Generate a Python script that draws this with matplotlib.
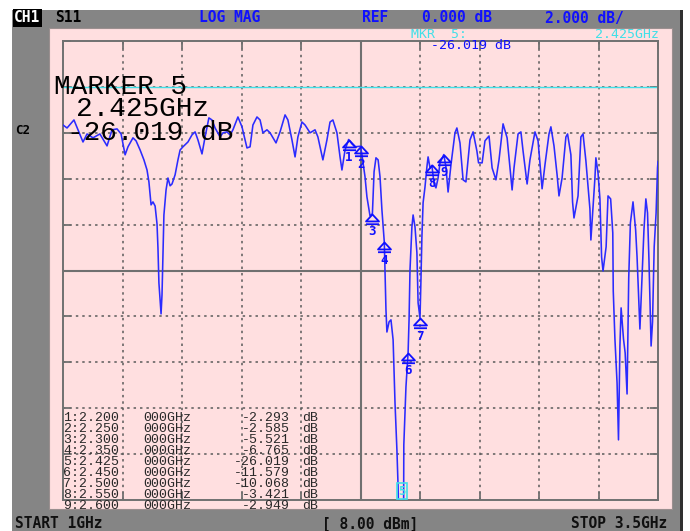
import matplotlib
matplotlib.use("Agg")
import matplotlib.pyplot as plt
from matplotlib.patches import Rectangle
from matplotlib.path import Path
import numpy as np

# ---------------- data ----------------
freq_ghz = [
    1.000, 1.017, 1.046, 1.063, 1.084, 1.101, 1.126, 1.155, 1.185, 1.206,
    1.227, 1.244, 1.261, 1.273, 1.294, 1.307, 1.324, 1.340, 1.353, 1.361,
    1.370, 1.378, 1.387, 1.395, 1.399, 1.403, 1.408, 1.412, 1.416, 1.420,
    1.424, 1.433, 1.441, 1.450, 1.458, 1.471, 1.483, 1.492, 1.504, 1.525,
    1.542, 1.555, 1.567, 1.584, 1.597, 1.613, 1.626, 1.639, 1.660, 1.672,
    1.689, 1.702, 1.714, 1.735, 1.752, 1.773, 1.786, 1.798, 1.815, 1.828,
    1.840, 1.857, 1.870, 1.895, 1.912, 1.933, 1.945, 1.962, 1.975, 1.987,
    2.004, 2.017, 2.038, 2.059, 2.071, 2.092, 2.109, 2.122, 2.134, 2.151,
    2.164, 2.172, 2.185, 2.200, 2.214, 2.227, 2.250, 2.256, 2.269, 2.277,
    2.290, 2.300, 2.307, 2.315, 2.324, 2.332, 2.340, 2.350, 2.353, 2.357,
    2.361, 2.370, 2.378, 2.387, 2.395, 2.403, 2.408, 2.416, 2.425, 2.430,
    2.432, 2.441, 2.450, 2.454, 2.458, 2.466, 2.471, 2.479, 2.487, 2.492,
    2.500, 2.504, 2.508, 2.513, 2.521, 2.529, 2.534, 2.542, 2.550, 2.559,
    2.567, 2.576, 2.584, 2.600, 2.609, 2.618, 2.630, 2.647, 2.655, 2.668,
    2.681, 2.693, 2.710, 2.723, 2.739, 2.746, 2.761, 2.773, 2.790, 2.803,
    2.819, 2.832, 2.849, 2.866, 2.882, 2.887, 2.895, 2.912, 2.924, 2.933,
    2.950, 2.962, 2.983, 2.996, 3.013, 3.025, 3.042, 3.050, 3.063, 3.076,
    3.084, 3.097, 3.113, 3.120, 3.134, 3.141, 3.147, 3.164, 3.176, 3.185,
    3.197, 3.214, 3.218, 3.235, 3.239, 3.248, 3.256, 3.263, 3.269, 3.282,
    3.290, 3.301, 3.310, 3.312, 3.319, 3.328, 3.334, 3.340, 3.345, 3.355,
    3.362, 3.370, 3.377, 3.384, 3.395, 3.406, 3.412, 3.420, 3.424, 3.434,
    3.441, 3.449, 3.456, 3.462, 3.471, 3.477, 3.484, 3.492, 3.498, 3.500,
]
s11_db = [
    -1.66, -1.79, -1.44, -1.87, -2.40, -2.05, -2.22, -2.05, -2.57, -1.87,
    -1.83, -2.05, -2.96, -2.61, -2.22, -2.35, -2.75, -3.18, -3.62, -4.14,
    -5.14, -5.01, -5.19, -5.97, -7.02, -8.54, -9.28, -9.89, -9.06, -7.41,
    -5.58, -4.49, -3.97, -4.31, -4.23, -3.83, -3.18, -2.75, -2.61, -2.40,
    -2.09, -1.96, -2.31, -2.92, -2.18, -1.35, -1.44, -1.79, -2.18, -2.00,
    -1.96, -2.09, -1.87, -1.31, -1.74, -2.66, -2.61, -1.66, -1.31, -1.44,
    -2.00, -1.87, -2.00, -2.44, -1.96, -1.22, -1.44, -2.31, -3.05, -2.18,
    -1.53, -1.66, -2.00, -1.87, -2.18, -3.18, -2.31, -1.53, -1.44, -2.00,
    -3.05, -3.62, -2.75, -2.293, -2.48, -2.61, -2.585, -2.96, -3.92, -4.79,
    -5.62, -5.521, -3.70, -3.09, -3.18, -3.92, -5.36, -6.765, -7.97, -9.72,
    -10.68, -10.24, -10.15, -11.02, -13.77, -15.82, -17.43, -22.0, -26.019, -22.0,
    -15.6, -13.07, -11.579, -10.15, -7.97, -6.10, -5.58, -6.10, -7.23, -9.41,
    -10.068, -8.41, -6.54, -5.05, -4.36, -3.49, -3.05, -3.53, -3.421, -4.23,
    -4.40, -3.97, -3.31, -2.949, -3.49, -4.58, -3.40, -2.00, -1.79, -2.44,
    -4.05, -4.14, -2.31, -1.96, -2.79, -3.31, -3.31, -2.35, -2.14, -3.53,
    -4.05, -3.18, -1.61, -2.22, -3.97, -4.49, -3.53, -2.05, -1.96, -2.79,
    -4.23, -3.18, -1.96, -2.35, -4.44, -3.40, -2.05, -1.74, -2.57, -3.83,
    -4.75, -3.97, -2.18, -2.05, -2.96, -5.01, -5.71, -4.75, -2.18, -2.05,
    -3.22, -5.32, -6.67, -3.97, -3.09, -3.75, -4.88, -7.41, -8.02, -6.97,
    -4.75, -4.88, -6.36, -8.89, -10.98, -12.90, -15.38, -11.29, -9.63, -10.98,
    -11.59, -13.38, -8.32, -5.93, -5.01, -6.23, -7.41, -9.50, -10.55, -8.02,
    -6.23, -4.88, -5.49, -7.54, -11.29, -10.24, -6.97, -5.49, -3.53, -3.25,
]

marker_ids = [1, 2, 3, 4, 5, 6, 7, 8, 9]
marker_ghz = [2.200, 2.250, 2.300, 2.350, 2.425, 2.450, 2.500, 2.550, 2.600]
marker_db = [-2.293, -2.585, -5.521, -6.765, -26.019, -11.579, -10.068, -3.421, -2.949]
active_marker = 5

start_ghz, stop_ghz = 1.0, 3.5
ref_db = 0.0
scale_db = 2.0
ref_div_from_top = 1
n_div = 10
power_dbm = 8.00

# ---------------- layout helpers ----------------
W, H = 690, 531
fig = plt.figure(figsize=(W / 100, H / 100), dpi=100)
fig.patch.set_facecolor('white')

def fx(x):
    return x / W

def fy(y):
    return 1 - y / H

def rect(x0, y0, x1, y1, **kw):
    fig.add_artist(Rectangle((fx(x0), fy(y1)), (x1 - x0) / W, (y1 - y0) / H,
                             transform=fig.transFigure, **kw))

GRAY = '#858585'
PINK = '#ffdfe0'
BLUE = '#1010ff'
CYAN = '#40e0e8'
GRID = '#707070'

rect(12, 10, 680, 531, facecolor=GRAY, edgecolor='none', zorder=0)
rect(680, 10, 683, 531, facecolor='#303030', edgecolor='none', zorder=0)
rect(49, 28, 672, 509, facecolor=PINK, edgecolor='#9a8f8f', lw=0.8, zorder=0)

# ---------------- axes ----------------
ax = fig.add_axes([fx(63), fy(500), 595 / W, 459 / H])
ax.set_facecolor(PINK)
top_db = ref_db + ref_div_from_top * scale_db
bot_db = top_db - n_div * scale_db
ax.set_xlim(start_ghz, stop_ghz)
ax.set_ylim(bot_db, top_db)
xt = np.linspace(start_ghz, stop_ghz, n_div + 1)
yt = np.linspace(bot_db, top_db, n_div + 1)
ax.set_xticks(xt)
ax.set_yticks(yt)
ax.tick_params(direction='in', length=6, width=1.3, color=GRID,
               top=True, right=True, labelbottom=False, labelleft=False)
for s in ax.spines.values():
    s.set_color(GRID)
    s.set_linewidth(1.4)
for x in xt[1:-1]:
    ax.axvline(x, color='#5a5a5a', lw=1.1, dashes=(1.6, 2.6), zorder=1)
for y in yt[1:-1]:
    ax.axhline(y, color='#5a5a5a', lw=1.1, dashes=(1.6, 2.6), zorder=1)
ax.axvline((start_ghz + stop_ghz) / 2, color=GRID, lw=1.5, zorder=1.5)
ax.axhline((top_db + bot_db) / 2, color=GRID, lw=1.5, zorder=1.5)
ax.axhline(ref_db, color=CYAN, lw=1.0, zorder=1.6)

ax.plot(freq_ghz, s11_db, color='#2b2bff', lw=1.15, zorder=3)

# marker symbol: hollow up-arrow (tip at the data point) with a base bar
arrow_path = Path(
    [(0, 0), (-0.7, -0.75), (0.7, -0.75), (0, 0),
     (-0.7, -1.05), (0.7, -1.05)],
    [Path.MOVETO, Path.LINETO, Path.LINETO, Path.CLOSEPOLY,
     Path.MOVETO, Path.LINETO])

for mid, mf, md in zip(marker_ids, marker_ghz, marker_db):
    if mid == active_marker:
        ax.annotate(str(mid), xy=(mf, max(md, bot_db)), xytext=(0, 1.5),
                    textcoords='offset points', ha='center', va='bottom',
                    color=CYAN, fontsize=9, family='DejaVu Sans Mono',
                    fontweight='bold', annotation_clip=False, zorder=5,
                    bbox=dict(boxstyle='square,pad=0.12', fc='none', ec=CYAN, lw=1.2))
    else:
        ax.plot([mf], [md], ls='none', marker=arrow_path, ms=14,
                mfc='none', mec=BLUE, mew=1.3, zorder=5, clip_on=False)
        ax.annotate(str(mid), xy=(mf, md), xytext=(0, -8.5),
                    textcoords='offset points', ha='center', va='top',
                    color=BLUE, fontsize=9, family='DejaVu Sans Mono',
                    fontweight='bold', annotation_clip=False, zorder=5)

# ---------------- header / footer texts ----------------
HB = dict(family='DejaVu Sans Mono', fontweight='bold', fontsize=10.5, va='center')
fig.text(fx(14), fy(18), 'CH1', color='white', ha='left',
         bbox=dict(boxstyle='square,pad=0.1', fc='black', ec='none'), **HB)
fig.text(fx(55), fy(18), 'S11', color='black', ha='left', **HB)
fig.text(fx(199), fy(18), 'LOG MAG', color=BLUE, ha='left', **HB)
fig.text(fx(362), fy(18), 'REF', color=BLUE, ha='left', **HB)
fig.text(fx(422), fy(18), f'{ref_db:.3f} dB', color=BLUE, ha='left', **HB)
fig.text(fx(545), fy(18), f'{scale_db:.3f} dB/', color=BLUE, ha='left', **HB)

act = marker_ids.index(active_marker)
SM = dict(family='DejaVu Sans Mono', fontsize=9.5, va='center')
fig.text(fx(411), fy(34), f'MKR  {active_marker}:', color=CYAN, ha='left', **SM)
fig.text(fx(659), fy(34), f'{marker_ghz[act]:.3f}GHz', color=CYAN, ha='right', **SM)
fig.text(fx(431), fy(45.5), f'{marker_db[act]:.3f} dB', color=BLUE, ha='left', **SM)

BIG = dict(family='Liberation Mono', fontsize=20, color='black', va='center')
fig.text(fx(54), fy(87), f'MARKER {active_marker}', ha='left', **BIG)
fig.text(fx(76), fy(109.5), f'{marker_ghz[act]:.3f}GHz', ha='left', **BIG)
fig.text(fx(67), fy(132.5), f'{marker_db[act]:.3f} dB', ha='left', **BIG)

fig.text(fx(15), fy(131), 'C2', color='black', ha='left',
         family='DejaVu Sans Mono', fontweight='bold', fontsize=9, va='center')

FB = dict(family='DejaVu Sans Mono', fontweight='bold', fontsize=10.5, va='center',
          color='#101010')
fig.text(fx(15), fy(524), f'START {start_ghz:g}GHz', ha='left', **FB)
fig.text(fx(322), fy(524), f'[ {power_dbm:.2f} dBm]', ha='left', **FB)
fig.text(fx(667), fy(524), f'STOP {stop_ghz:g}GHz', ha='right', **FB)

# marker table
TB = dict(family='Liberation Mono', fontsize=9.5, va='center', color='#282828')
for i, (mid, mf, md) in enumerate(zip(marker_ids, marker_ghz, marker_db)):
    yy = 418 + i * 11
    fig.text(fx(63), fy(yy), f'{mid}:{mf:.3f}', ha='left', **TB)
    fig.text(fx(143), fy(yy), '000GHz', ha='left', **TB)
    fig.text(fx(290), fy(yy), f'{md:.3f}', ha='right', **TB)
    fig.text(fx(302), fy(yy), 'dB', ha='left', **TB)

fig.savefig('out.png', dpi=100)
